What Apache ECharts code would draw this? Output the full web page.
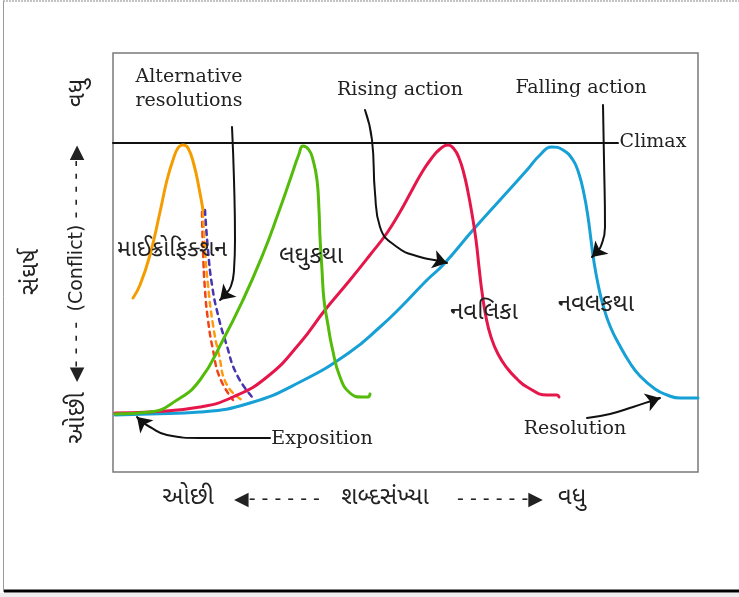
<!DOCTYPE html>
<html><head><meta charset="utf-8">
<script src="https://cdn.jsdelivr.net/npm/echarts@6/dist/echarts.min.js"></script>
<style>html,body{margin:0;padding:0;background:#fff}#c{width:739px;height:597px}</style>
</head><body><div id="c"></div>
<script>
// Axis ranges (abstract units: word count → x, conflict → y)
const xRange = [0, 585];
const yRange = [0, 419];
const climaxLevel = 329;

// Story curves [wordCount, conflict]
const microFiction = [[20,174],[27,187],[37,217],[47,260],[54,292],[60,312],[65,324],[70,327],[75,324],[81,307],[86,284],[90,262]];
const laghukatha = [[2,58],[37,60],[64,72],[87,92],[110,132],[130,172],[150,218],[165,258],[178,295],[186,318],[190,326],[196,322],[200,312],[204,292],[206,262],[207,235],[209,202],[211,172],[215,147],[219,125],[227,95],[237,79],[249,75],[255,75],[257,78]];
const navalika = [[2,59],[37,60],[87,65],[120,75],[154,95],[187,129],[212,162],[237,192],[257,217],[274,239],[287,260],[298,280],[308,298],[318,313],[327,323],[335,327],[341,323],[346,314],[351,298],[355,280],[359,258],[363,232],[366,205],[369,180],[373,155],[378,135],[385,118],[394,104],[404,93],[414,85],[434,77],[444,77],[446,75]];
const navalkatha = [[2,57],[37,58],[87,60],[137,69],[187,90],[237,120],[267,145],[287,164],[314,192],[330,207],[360,242],[387,272],[414,302],[427,317],[439,325],[450,322],[460,312],[466,298],[471,278],[475,255],[478,232],[481,210],[485,188],[490,167],[497,146],[507,126],[517,109],[527,96],[542,83],[554,77],[567,74],[585,74]];

// Alternative resolutions (dotted)
const altRed = [[89,260],[90,222],[92,182],[95,152],[100,122],[107,94],[120,72]];
const altOrange = [[90,260],[92,222],[95,187],[100,147],[106,117],[114,87],[129,72]];
const altPurple = [[92,262],[95,222],[99,187],[105,157],[113,129],[124,97],[140,74]];

const climaxLine = [[0, climaxLevel], [505, climaxLevel]];

// Annotation arrows (tail → tip)
const arrowAltRes = [[119,345],[121,292],[122,232],[121,202],[118,186],[112,177],[107,172]];
const arrowRising = [[252,362],[259,332],[262,279],[267,245],[284,225],[307,215],[327,211],[334,209]];
const arrowFalling = [[490,367],[491,312],[492,245],[488,226],[483,219],[479,215]];
const arrowExposition = [[157,34],[87,34],[54,37],[37,45],[28,51],[24,55]];
const arrowResolution = [[474,54],[497,58],[520,65],[541,72],[547,74]];

const colors = {
  micro: '#f59d00', laghu: '#55bb0a', navalika: '#e5174a', navalkatha: '#16a0d6',
  dotRed: '#ee4418', dotOrange: '#ff9a10', dotPurple: '#4634b0'
};

function curve(data, color, width, dash, z) {
  return { type: 'line', data: data, smooth: true, symbol: 'none', showSymbol: false, silent: true,
    lineStyle: { color: color, width: width, type: dash || 'solid', cap: 'round' }, z: z || 2 };
}

const arrows = [arrowAltRes, arrowRising, arrowFalling, arrowExposition, arrowResolution];
const series = [
  curve(climaxLine, '#111', 2, null, 1),
  curve(altRed, colors.dotRed, 2.5, [5, 5], 2),
  curve(altOrange, colors.dotOrange, 2.5, [5, 5], 2),
  curve(altPurple, colors.dotPurple, 2.5, [5, 5], 2),
  curve(navalkatha, colors.navalkatha, 3, null, 3),
  curve(navalika, colors.navalika, 3, null, 3),
  curve(laghukatha, colors.laghu, 3, null, 3),
  curve(microFiction, colors.micro, 3, null, 3)
];
arrows.forEach(a => series.push(curve(a, '#111', 2, null, 4)));
series.push({
  type: 'lines', coordinateSystem: 'cartesian2d', silent: true, z: 5,
  symbol: ['none', 'arrow'], symbolSize: 14,
  lineStyle: { color: '#111', width: 2, opacity: 1 },
  data: arrows.map(a => ({ coords: [a[a.length - 2], a[a.length - 1]] }))
});

const serif = '19px "DejaVu Serif", serif';
const guj = '"Noto Sans", "Noto Sans Gujarati", sans-serif';
const gujBig = '24px ' + guj;
const dash = '19px "DejaVu Sans", sans-serif';
function txt(x, y, text, font, extra) {
  return Object.assign({ type: 'text', x: x, y: y, silent: true, z: 10,
    style: { text: text, font: font, fill: '#222', align: 'center', verticalAlign: 'middle', lineHeight: 24 } }, extra || {});
}
const V = Math.PI / 2;

const graphic = [
  { type: 'line', shape: { x1: 3, y1: 1, x2: 739, y2: 1 }, style: { stroke: '#888', lineWidth: 1, lineDash: [2, 1] } },
  { type: 'line', shape: { x1: 3.5, y1: 1, x2: 3.5, y2: 592 }, style: { stroke: '#999', lineWidth: 1 } },
  { type: 'line', shape: { x1: 4, y1: 591, x2: 739, y2: 591 }, style: { stroke: '#000', lineWidth: 3 } },
  { type: 'rect', shape: { x: 0, y: 593, width: 739, height: 4 }, style: { fill: '#eee' } },
  txt(189, 89, 'Alternative\nresolutions', serif),
  txt(400, 90, 'Rising action', serif),
  txt(581, 88, 'Falling action', serif),
  txt(653, 142, 'Climax', serif),
  txt(322, 439, 'Exposition', serif),
  txt(575, 429, 'Resolution', serif),
  txt(172, 249, 'માઈક્રોફિક્શન', '23px ' + guj),
  txt(311, 256, 'લઘુકથા', gujBig),
  txt(484, 312, 'નવલિકા', gujBig),
  txt(596, 304, 'નવલકથા', gujBig),
  txt(188, 497, 'ઓછી', gujBig),
  txt(277, 500, '◀- - - - - -', dash),
  txt(385, 497, 'શબ્દસંખ્યા', gujBig),
  txt(500, 500, '- - - - - -▶', dash),
  txt(572, 497, 'વધુ', gujBig),
  txt(77, 418, 'ઓછી', gujBig, { rotation: V }),
  txt(77, 352, '◀- - - -', dash, { rotation: V }),
  txt(77, 268, '(Conflict)', dash, { rotation: V }),
  txt(77, 182, '- - - - -▶', dash, { rotation: V }),
  txt(77, 93, 'વધુ', gujBig, { rotation: V }),
  txt(31, 272, 'સંઘર્ષ', gujBig, { rotation: V })
];

const chart = echarts.init(document.getElementById('c'), null, { renderer: 'canvas' });
chart.setOption({
  animation: false,
  backgroundColor: '#fff',
  grid: { left: 113, top: 53, width: 585, height: 419, show: true, borderColor: '#7a7a7a', borderWidth: 1.5, backgroundColor: 'transparent' },
  xAxis: { type: 'value', min: xRange[0], max: xRange[1], show: false },
  yAxis: { type: 'value', min: yRange[0], max: yRange[1], show: false },
  series: series,
  graphic: graphic
});
</script></body></html>
